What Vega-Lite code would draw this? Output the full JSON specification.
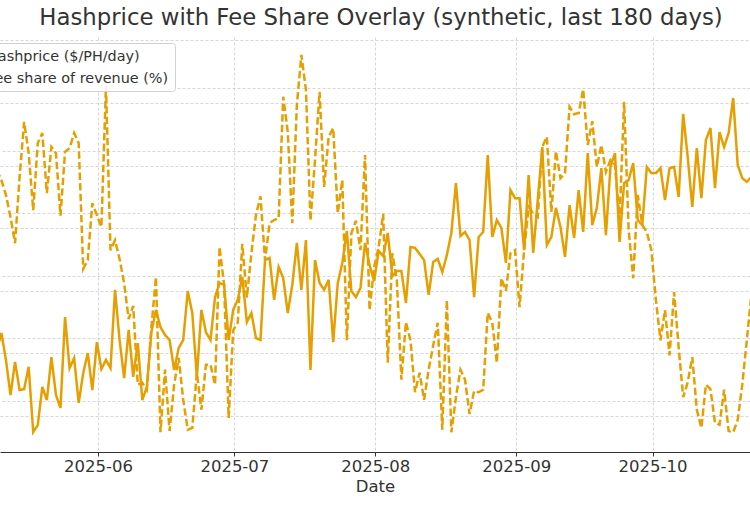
{
 "$schema": "https://vega.github.io/schema/vega-lite/v6.json",
 "width": 750,
 "height": 415,
 "autosize": {"type": "none"},
 "padding": {"left": 0, "right": 0, "top": 37, "bottom": 55},
 "background": "white",
 "title": {"text": "Hashprice with Fee Share Overlay (synthetic, last 180 days)", "font": "DejaVu Sans", "fontSize": 22.8, "fontWeight": "normal", "color": "#333333", "anchor": "middle", "dx": 6, "dy": 20, "offset": 9, "baseline": "alphabetic"},
 "data": {"values": [
  {"date": "2025-05-09T18:00", "hashprice": 46.11, "fee_share": 4.69},
  {"date": "2025-05-10T18:00", "hashprice": 46.65, "fee_share": 4.53},
  {"date": "2025-05-11T18:00", "hashprice": 45.79, "fee_share": 4.29},
  {"date": "2025-05-12T18:00", "hashprice": 44.67, "fee_share": 3.94},
  {"date": "2025-05-13T18:00", "hashprice": 45.73, "fee_share": 3.52},
  {"date": "2025-05-14T18:00", "hashprice": 44.83, "fee_share": 4.58},
  {"date": "2025-05-15T18:00", "hashprice": 44.86, "fee_share": 5.46},
  {"date": "2025-05-16T18:00", "hashprice": 45.57, "fee_share": 4.96},
  {"date": "2025-05-17T18:00", "hashprice": 43.49, "fee_share": 4.05},
  {"date": "2025-05-18T18:00", "hashprice": 43.71, "fee_share": 5.12},
  {"date": "2025-05-19T18:00", "hashprice": 44.93, "fee_share": 5.28},
  {"date": "2025-05-20T18:00", "hashprice": 44.51, "fee_share": 4.32},
  {"date": "2025-05-21T18:00", "hashprice": 45.88, "fee_share": 5.06},
  {"date": "2025-05-22T18:00", "hashprice": 44.67, "fee_share": 4.96},
  {"date": "2025-05-23T18:00", "hashprice": 44.26, "fee_share": 3.96},
  {"date": "2025-05-24T18:00", "hashprice": 47.16, "fee_share": 4.98},
  {"date": "2025-05-25T18:00", "hashprice": 45.53, "fee_share": 5.04},
  {"date": "2025-05-26T18:00", "hashprice": 45.85, "fee_share": 5.28},
  {"date": "2025-05-27T18:00", "hashprice": 44.42, "fee_share": 5.12},
  {"date": "2025-05-28T18:00", "hashprice": 45.37, "fee_share": 3.11},
  {"date": "2025-05-29T18:00", "hashprice": 46.01, "fee_share": 3.25},
  {"date": "2025-05-30T18:00", "hashprice": 44.83, "fee_share": 4.16},
  {"date": "2025-05-31T18:00", "hashprice": 46.36, "fee_share": 3.97},
  {"date": "2025-06-01T18:00", "hashprice": 45.50, "fee_share": 3.78},
  {"date": "2025-06-02T18:00", "hashprice": 45.79, "fee_share": 6.03},
  {"date": "2025-06-03T18:00", "hashprice": 45.53, "fee_share": 3.41},
  {"date": "2025-06-04T18:00", "hashprice": 48.03, "fee_share": 3.57},
  {"date": "2025-06-05T18:00", "hashprice": 46.43, "fee_share": 3.27},
  {"date": "2025-06-06T18:00", "hashprice": 45.21, "fee_share": 2.88},
  {"date": "2025-06-07T18:00", "hashprice": 46.75, "fee_share": 2.31},
  {"date": "2025-06-08T18:00", "hashprice": 45.25, "fee_share": 2.52},
  {"date": "2025-06-09T18:00", "hashprice": 46.33, "fee_share": 1.26},
  {"date": "2025-06-10T18:00", "hashprice": 44.51, "fee_share": 1.29},
  {"date": "2025-06-11T18:00", "hashprice": 44.93, "fee_share": 1.18},
  {"date": "2025-06-12T18:00", "hashprice": 46.68, "fee_share": 2.18},
  {"date": "2025-06-13T18:00", "hashprice": 47.39, "fee_share": 2.98},
  {"date": "2025-06-14T18:00", "hashprice": 46.84, "fee_share": 0.50},
  {"date": "2025-06-15T18:00", "hashprice": 46.59, "fee_share": 1.50},
  {"date": "2025-06-16T18:00", "hashprice": 46.43, "fee_share": 0.52},
  {"date": "2025-06-17T18:00", "hashprice": 45.47, "fee_share": 1.26},
  {"date": "2025-06-18T18:00", "hashprice": 46.17, "fee_share": 1.69},
  {"date": "2025-06-19T18:00", "hashprice": 46.43, "fee_share": 1.02},
  {"date": "2025-06-20T18:00", "hashprice": 47.99, "fee_share": 0.54},
  {"date": "2025-06-21T18:00", "hashprice": 47.29, "fee_share": 0.57},
  {"date": "2025-06-22T18:00", "hashprice": 45.25, "fee_share": 1.45},
  {"date": "2025-06-23T18:00", "hashprice": 47.39, "fee_share": 0.86},
  {"date": "2025-06-24T18:00", "hashprice": 46.68, "fee_share": 1.58},
  {"date": "2025-06-25T18:00", "hashprice": 46.43, "fee_share": 1.58},
  {"date": "2025-06-26T18:00", "hashprice": 47.80, "fee_share": 1.26},
  {"date": "2025-06-27T18:00", "hashprice": 48.25, "fee_share": 3.46},
  {"date": "2025-06-28T18:00", "hashprice": 48.19, "fee_share": 2.85},
  {"date": "2025-06-29T18:00", "hashprice": 46.43, "fee_share": 0.73},
  {"date": "2025-06-30T18:00", "hashprice": 47.39, "fee_share": 2.13},
  {"date": "2025-07-01T18:00", "hashprice": 47.71, "fee_share": 2.25},
  {"date": "2025-07-02T18:00", "hashprice": 48.44, "fee_share": 3.51},
  {"date": "2025-07-03T18:00", "hashprice": 47.00, "fee_share": 2.65},
  {"date": "2025-07-04T18:00", "hashprice": 47.29, "fee_share": 3.36},
  {"date": "2025-07-05T18:00", "hashprice": 46.49, "fee_share": 3.97},
  {"date": "2025-07-06T18:00", "hashprice": 46.43, "fee_share": 4.27},
  {"date": "2025-07-07T18:00", "hashprice": 48.98, "fee_share": 3.25},
  {"date": "2025-07-08T18:00", "hashprice": 49.05, "fee_share": 3.84},
  {"date": "2025-07-09T18:00", "hashprice": 47.71, "fee_share": 3.89},
  {"date": "2025-07-10T18:00", "hashprice": 48.76, "fee_share": 3.92},
  {"date": "2025-07-11T18:00", "hashprice": 48.41, "fee_share": 5.86},
  {"date": "2025-07-12T18:00", "hashprice": 47.29, "fee_share": 5.30},
  {"date": "2025-07-13T18:00", "hashprice": 48.19, "fee_share": 3.84},
  {"date": "2025-07-14T18:00", "hashprice": 49.53, "fee_share": 5.73},
  {"date": "2025-07-15T18:00", "hashprice": 48.03, "fee_share": 6.53},
  {"date": "2025-07-16T18:00", "hashprice": 49.62, "fee_share": 5.97},
  {"date": "2025-07-17T18:00", "hashprice": 45.47, "fee_share": 3.88},
  {"date": "2025-07-18T18:00", "hashprice": 48.98, "fee_share": 4.85},
  {"date": "2025-07-19T18:00", "hashprice": 48.25, "fee_share": 5.94},
  {"date": "2025-07-20T18:00", "hashprice": 48.03, "fee_share": 4.42},
  {"date": "2025-07-21T18:00", "hashprice": 48.35, "fee_share": 5.22},
  {"date": "2025-07-22T18:00", "hashprice": 46.36, "fee_share": 5.36},
  {"date": "2025-07-23T18:00", "hashprice": 48.25, "fee_share": 4.00},
  {"date": "2025-07-24T18:00", "hashprice": 48.89, "fee_share": 4.53},
  {"date": "2025-07-25T18:00", "hashprice": 49.91, "fee_share": 1.97},
  {"date": "2025-07-26T18:00", "hashprice": 47.99, "fee_share": 3.68},
  {"date": "2025-07-27T18:00", "hashprice": 47.80, "fee_share": 3.88},
  {"date": "2025-07-28T18:00", "hashprice": 48.09, "fee_share": 3.41},
  {"date": "2025-07-29T18:00", "hashprice": 49.53, "fee_share": 4.93},
  {"date": "2025-07-30T18:00", "hashprice": 48.82, "fee_share": 2.45},
  {"date": "2025-07-31T18:00", "hashprice": 48.31, "fee_share": 3.14},
  {"date": "2025-08-01T18:00", "hashprice": 49.27, "fee_share": 3.46},
  {"date": "2025-08-02T18:00", "hashprice": 49.11, "fee_share": 3.99},
  {"date": "2025-08-03T18:00", "hashprice": 49.85, "fee_share": 1.61},
  {"date": "2025-08-04T18:00", "hashprice": 48.47, "fee_share": 3.36},
  {"date": "2025-08-05T18:00", "hashprice": 48.63, "fee_share": 2.93},
  {"date": "2025-08-06T18:00", "hashprice": 48.63, "fee_share": 1.34},
  {"date": "2025-08-07T18:00", "hashprice": 47.61, "fee_share": 2.26},
  {"date": "2025-08-08T18:00", "hashprice": 49.40, "fee_share": 1.97},
  {"date": "2025-08-09T18:00", "hashprice": 49.37, "fee_share": 1.14},
  {"date": "2025-08-10T18:00", "hashprice": 49.18, "fee_share": 1.45},
  {"date": "2025-08-11T18:00", "hashprice": 48.98, "fee_share": 1.02},
  {"date": "2025-08-12T18:00", "hashprice": 47.87, "fee_share": 1.50},
  {"date": "2025-08-13T18:00", "hashprice": 48.92, "fee_share": 1.89},
  {"date": "2025-08-14T18:00", "hashprice": 49.02, "fee_share": 2.25},
  {"date": "2025-08-15T18:00", "hashprice": 48.60, "fee_share": 0.54},
  {"date": "2025-08-16T18:00", "hashprice": 49.14, "fee_share": 2.61},
  {"date": "2025-08-17T18:00", "hashprice": 49.85, "fee_share": 0.50},
  {"date": "2025-08-18T18:00", "hashprice": 51.44, "fee_share": 1.06},
  {"date": "2025-08-19T18:00", "hashprice": 49.75, "fee_share": 1.50},
  {"date": "2025-08-20T18:00", "hashprice": 49.88, "fee_share": 1.34},
  {"date": "2025-08-21T18:00", "hashprice": 49.62, "fee_share": 0.79},
  {"date": "2025-08-22T18:00", "hashprice": 47.80, "fee_share": 1.16},
  {"date": "2025-08-23T18:00", "hashprice": 49.72, "fee_share": 1.14},
  {"date": "2025-08-24T18:00", "hashprice": 49.88, "fee_share": 1.18},
  {"date": "2025-08-25T18:00", "hashprice": 52.34, "fee_share": 2.41},
  {"date": "2025-08-26T18:00", "hashprice": 49.72, "fee_share": 2.25},
  {"date": "2025-08-27T18:00", "hashprice": 50.26, "fee_share": 1.61},
  {"date": "2025-08-28T18:00", "hashprice": 50.01, "fee_share": 2.96},
  {"date": "2025-08-29T18:00", "hashprice": 48.89, "fee_share": 2.76},
  {"date": "2025-08-30T18:00", "hashprice": 51.22, "fee_share": 3.36},
  {"date": "2025-08-31T18:00", "hashprice": 50.96, "fee_share": 3.41},
  {"date": "2025-09-01T18:00", "hashprice": 50.96, "fee_share": 2.50},
  {"date": "2025-09-02T18:00", "hashprice": 49.30, "fee_share": 3.41},
  {"date": "2025-09-03T18:00", "hashprice": 51.70, "fee_share": 4.10},
  {"date": "2025-09-04T18:00", "hashprice": 49.21, "fee_share": 4.00},
  {"date": "2025-09-05T18:00", "hashprice": 50.90, "fee_share": 3.94},
  {"date": "2025-09-06T18:00", "hashprice": 52.59, "fee_share": 5.06},
  {"date": "2025-09-07T18:00", "hashprice": 49.46, "fee_share": 5.22},
  {"date": "2025-09-08T18:00", "hashprice": 49.72, "fee_share": 4.02},
  {"date": "2025-09-09T18:00", "hashprice": 50.65, "fee_share": 4.99},
  {"date": "2025-09-10T18:00", "hashprice": 50.04, "fee_share": 4.56},
  {"date": "2025-09-11T18:00", "hashprice": 49.08, "fee_share": 4.64},
  {"date": "2025-09-12T18:00", "hashprice": 50.74, "fee_share": 5.70},
  {"date": "2025-09-13T18:00", "hashprice": 49.69, "fee_share": 5.58},
  {"date": "2025-09-14T18:00", "hashprice": 51.22, "fee_share": 5.60},
  {"date": "2025-09-15T18:00", "hashprice": 49.88, "fee_share": 5.98},
  {"date": "2025-09-16T18:00", "hashprice": 52.40, "fee_share": 5.09},
  {"date": "2025-09-17T18:00", "hashprice": 50.10, "fee_share": 5.47},
  {"date": "2025-09-18T18:00", "hashprice": 50.65, "fee_share": 4.74},
  {"date": "2025-09-19T18:00", "hashprice": 51.92, "fee_share": 5.09},
  {"date": "2025-09-20T18:00", "hashprice": 49.78, "fee_share": 4.66},
  {"date": "2025-09-21T18:00", "hashprice": 51.96, "fee_share": 4.85},
  {"date": "2025-09-22T18:00", "hashprice": 52.40, "fee_share": 4.77},
  {"date": "2025-09-23T18:00", "hashprice": 49.56, "fee_share": 3.89},
  {"date": "2025-09-24T18:00", "hashprice": 51.44, "fee_share": 5.78},
  {"date": "2025-09-25T18:00", "hashprice": 51.54, "fee_share": 3.73},
  {"date": "2025-09-26T18:00", "hashprice": 52.08, "fee_share": 2.96},
  {"date": "2025-09-27T18:00", "hashprice": 50.26, "fee_share": 4.29},
  {"date": "2025-09-28T18:00", "hashprice": 50.10, "fee_share": 3.81},
  {"date": "2025-09-29T18:00", "hashprice": 51.96, "fee_share": 3.70},
  {"date": "2025-09-30T18:00", "hashprice": 51.76, "fee_share": 3.41},
  {"date": "2025-10-01T18:00", "hashprice": 51.76, "fee_share": 2.61},
  {"date": "2025-10-02T18:00", "hashprice": 51.92, "fee_share": 1.97},
  {"date": "2025-10-03T18:00", "hashprice": 50.90, "fee_share": 2.45},
  {"date": "2025-10-04T18:00", "hashprice": 51.92, "fee_share": 1.73},
  {"date": "2025-10-05T18:00", "hashprice": 51.96, "fee_share": 2.74},
  {"date": "2025-10-06T18:00", "hashprice": 51.00, "fee_share": 1.86},
  {"date": "2025-10-07T18:00", "hashprice": 53.65, "fee_share": 1.06},
  {"date": "2025-10-08T18:00", "hashprice": 52.27, "fee_share": 1.30},
  {"date": "2025-10-09T18:00", "hashprice": 50.68, "fee_share": 1.70},
  {"date": "2025-10-10T18:00", "hashprice": 52.56, "fee_share": 0.86},
  {"date": "2025-10-11T18:00", "hashprice": 50.96, "fee_share": 0.57},
  {"date": "2025-10-12T18:00", "hashprice": 52.82, "fee_share": 1.26},
  {"date": "2025-10-13T18:00", "hashprice": 53.20, "fee_share": 1.19},
  {"date": "2025-10-14T18:00", "hashprice": 51.28, "fee_share": 0.65},
  {"date": "2025-10-15T18:00", "hashprice": 53.07, "fee_share": 0.62},
  {"date": "2025-10-16T18:00", "hashprice": 52.59, "fee_share": 1.18},
  {"date": "2025-10-17T18:00", "hashprice": 53.04, "fee_share": 0.52},
  {"date": "2025-10-18T18:00", "hashprice": 54.16, "fee_share": 0.50},
  {"date": "2025-10-19T18:00", "hashprice": 52.02, "fee_share": 0.70},
  {"date": "2025-10-20T18:00", "hashprice": 51.60, "fee_share": 1.26},
  {"date": "2025-10-21T18:00", "hashprice": 51.48, "fee_share": 1.97},
  {"date": "2025-10-22T18:00", "hashprice": 51.64, "fee_share": 2.69},
  {"date": "2025-10-23T18:00", "hashprice": 51.70, "fee_share": 3.41}
 ]},
 "encoding": {
  "x": {"field": "date", "type": "temporal",
   "scale": {"domain": [{"year": 2025, "month": 5, "date": 10, "hours": 10, "minutes": 33}, {"year": 2025, "month": 10, "date": 22, "hours": 10, "minutes": 48}]},
   "axis": {"title": "Date", "format": "%Y-%m", "tickCount": {"interval": "month", "step": 1}, "grid": true, "gridDash": [3, 2], "gridColor": "#cccccc", "gridWidth": 0.8, "domainColor": "#333333", "domainWidth": 1.2, "tickColor": "#333333", "tickSize": 4, "labelFont": "DejaVu Sans", "labelFontSize": 16.5, "labelColor": "#333333", "labelPadding": 2, "labelFlush": false, "labelOverlap": false, "titleFont": "DejaVu Sans", "titleFontSize": 16.5, "titleFontWeight": "normal", "titleColor": "#333333", "titlePadding": 4}}
 },
 "layer": [
  {"mark": {"type": "line", "color": "#E69F00", "strokeWidth": 2.5, "clip": true},
   "encoding": {
    "y": {"field": "hashprice", "type": "quantitative", "scale": {"domain": [42.85, 56.109], "zero": false, "nice": false},
     "axis": {"title": null, "values": [44, 46, 48, 50, 52, 54, 56], "grid": true, "gridDash": [3, 2], "gridColor": "#cccccc", "gridWidth": 0.8, "labels": false, "ticks": false, "domain": false}},
    "strokeDash": {"datum": "Hashprice ($/PH/day)", "type": "nominal",
     "scale": {"domain": ["Hashprice ($/PH/day)", "Fee share of revenue (%)"], "range": [[1, 0], [7.4, 3.2]]},
     "legend": {"title": null, "orient": "none", "legendX": -44, "legendY": 6, "labelFont": "DejaVu Sans", "labelFontSize": 14.4, "labelColor": "#333333", "labelLimit": 400, "padding": 6, "strokeColor": "#d0d0d0", "fillColor": "rgba(255,255,255,0.85)", "cornerRadius": 3, "rowPadding": 7, "symbolType": "stroke", "symbolSize": 150, "symbolStrokeColor": "#E69F00", "symbolStrokeWidth": 2.5, "labelOffset": 10}}
   }},
  {"mark": {"type": "line", "color": "#E69F00", "strokeWidth": 2.5, "clip": true},
   "encoding": {
    "y": {"field": "fee_share", "type": "quantitative", "scale": {"domain": [0.185, 6.815], "zero": false, "nice": false},
     "axis": {"title": null, "orient": "right", "values": [1, 2, 3, 4, 5, 6], "grid": true, "gridDash": [3, 2], "gridColor": "#cccccc", "gridWidth": 0.8, "labels": false, "ticks": false, "domain": false}},
    "strokeDash": {"datum": "Fee share of revenue (%)", "type": "nominal"}
   }}
 ],
 "resolve": {"scale": {"y": "independent"}},
 "config": {"view": {"stroke": null}}
}
